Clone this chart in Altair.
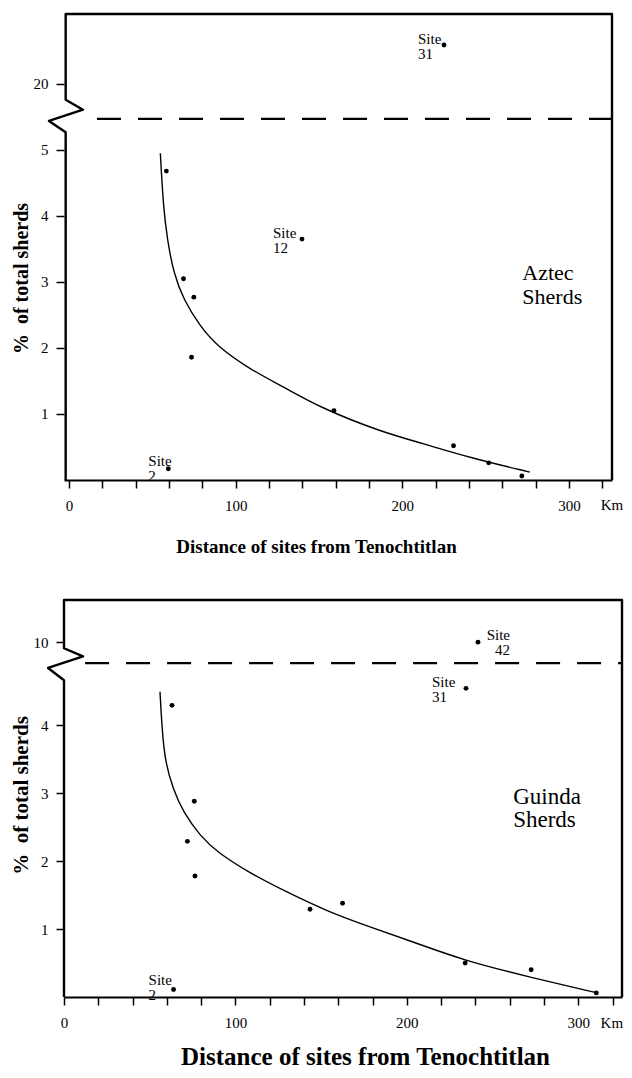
import altair as alt
import pandas as pd

SERIF = "Liberation Serif"

# ---------------- Aztec sherds (upper figure) ----------------
aztec_km = [58.4, 68.7, 74.9, 73.5, 59.6, 139.8, 159.0, 230.7, 251.8, 271.7, 225.0]
aztec_pct = [4.68, 3.05, 2.77, 1.86, 0.17, 3.65, 1.05, 0.52, 0.26, 0.06, 25.9]
aztec_curve_km = [54.8, 56.6, 59.0, 62.7, 68.7, 78.9, 89.2, 109.0, 128.9, 151.2, 187.3, 211.4, 241.6, 276.5]
aztec_curve_pct = [4.95, 4.14, 3.64, 3.14, 2.73, 2.32, 2.02, 1.67, 1.41, 1.09, 0.73, 0.56, 0.33, 0.12]
aztec_site_names = ["31", "12", "2"]
aztec_site_km = [225.0, 139.8, 59.6]
aztec_site_pct = [25.9, 3.65, 0.17]

# ---------------- Guinda sherds (lower figure) ----------------
guinda_km = [63.0, 76.0, 72.0, 76.4, 63.9, 143.5, 162.5, 234.0, 272.5, 310.5, 234.5, 241.5]
guinda_pct = [4.29, 2.88, 2.29, 1.78, 0.11, 1.29, 1.38, 0.50, 0.40, 0.06, 4.54, 10.0]
guinda_curve_km = [56.0, 57.2, 59.0, 63.6, 69.5, 79.4, 89.3, 108.6, 127.8, 155.3, 178.6, 203.7, 232.9, 272.0, 311.2]
guinda_curve_pct = [4.49, 3.94, 3.46, 3.06, 2.72, 2.37, 2.13, 1.82, 1.57, 1.24, 1.03, 0.81, 0.54, 0.29, 0.06]
guinda_site_names = ["42", "31", "2"]
guinda_site_km = [241.5, 234.5, 63.9]
guinda_site_pct = [10.0, 4.54, 0.11]

x_ticks = list(range(0, 321, 20))
X_TITLE = "Distance of sites from Tenochtitlan"
Y_TITLE = "%\u2002of total sherds"


def panel(km, pct, ckm, cpct, snames, skm, spct, site_offsets, break_expr,
          xdom, ytop, width, height, yvals, ylab_expr, frame_km, frame_y,
          dash_span, dash_y, name_text, name_pos, name_size, name_lh, km_pos, km_dy,
          x_label_pad, x_title_size, x_title_pad, x_title_x,
          y_title_size, y_title_pad, y_title_y):
    xe = alt.X("km:Q",
               scale=alt.Scale(domain=xdom, nice=False, zero=False),
               axis=alt.Axis(values=x_ticks, labelExpr="datum.value % 100 === 0 ? datum.label : ''",
                             labelOverlap=False, labelFlush=False, labelPadding=x_label_pad,
                             tickSize=8, tickWidth=1.5, domainWidth=2.2, domainColor="black",
                             tickColor="black", labelColor="black", labelFont=SERIF, labelFontSize=15,
                             title=X_TITLE, titleFont=SERIF, titleFontSize=x_title_size,
                             titleFontWeight="bold", titleColor="black", titlePadding=x_title_pad,
                             titleX=x_title_x, grid=False))
    ye = alt.Y("yv:Q",
               scale=alt.Scale(domain=[0, ytop], nice=False, zero=True),
               axis=alt.Axis(values=yvals, labelExpr=ylab_expr, labelOverlap=False, labelFlush=False,
                             domain=False, tickSize=8, tickWidth=1.5, tickColor="black",
                             labelColor="black", labelFont=SERIF, labelFontSize=15, labelPadding=8,
                             title=Y_TITLE, titleFont=SERIF, titleFontSize=y_title_size,
                             titleFontWeight="bold", titleColor="black", titlePadding=y_title_pad,
                             titleY=y_title_y, grid=False))

    pts = pd.DataFrame({"km": km, "pct": pct})
    crv = pd.DataFrame({"km": ckm, "yv": cpct})
    frame = pd.DataFrame({"km": frame_km, "yv": frame_y, "o": list(range(len(frame_km)))})
    dash = pd.DataFrame({"km": [dash_span[0]], "km2": [dash_span[1]], "yv": [dash_y]})
    name = pd.DataFrame({"km": [name_pos[0]], "yv": [name_pos[1]], "t": [name_text]})
    kmlab = pd.DataFrame({"km": [km_pos], "yv": [0.0], "t": ["Km"]})

    layers = []
    layers.append(alt.Chart(frame).mark_line(color="black", strokeWidth=2.4, strokeJoin="round")
                  .encode(x=xe, y=ye, order="o:Q"))
    layers.append(alt.Chart(dash).mark_rule(color="black", strokeWidth=2.2, strokeDash=[24, 17])
                  .encode(x=xe, x2="km2:Q", y=ye))
    layers.append(alt.Chart(crv).mark_line(color="black", strokeWidth=1.4, interpolate="basis")
                  .encode(x=xe, y=ye))
    layers.append(alt.Chart(pts).transform_calculate(yv=break_expr)
                  .mark_circle(color="black", opacity=1, size=24)
                  .encode(x=xe, y=ye))
    for n, k, p, (dx, dy, al) in zip(snames, skm, spct, site_offsets):
        sdf = pd.DataFrame({"km": [k], "pct": [p], "t": ["Site\n" + n]})
        layers.append(alt.Chart(sdf).transform_calculate(yv=break_expr)
                      .mark_text(font=SERIF, fontSize=15, lineHeight=15, lineBreak="\n",
                                 align=al, baseline="middle", dx=dx, dy=dy, color="black")
                      .encode(x=xe, y=ye, text="t:N"))
    layers.append(alt.Chart(name).mark_text(font=SERIF, fontSize=name_size, lineHeight=name_lh,
                                            lineBreak="\n", align="left", baseline="middle",
                                            color="black")
                  .encode(x=xe, y=ye, text="t:N"))
    layers.append(alt.Chart(kmlab).mark_text(font=SERIF, fontSize=15, align="left", baseline="middle",
                                             dy=km_dy, color="black")
                  .encode(x=xe, y=ye, text="t:N"))
    return alt.layer(*layers).properties(width=width, height=height)


top = panel(aztec_km, aztec_pct, aztec_curve_km, aztec_curve_pct,
            aztec_site_names, aztec_site_km, aztec_site_pct,
            [(-26, -6.5, "left"), (-29, -6, "left"), (-20, -8, "left")],
            "datum.pct > 5.5 ? 6 + (datum.pct - 20) * 0.1 : datum.pct",
            [-3, 325.8], 7.06, 548, 466, [1, 2, 3, 4, 5, 6],
            "datum.value > 5.5 ? '20' : datum.label",
            [325.8, 325.8, -2, -2, 8.4, -12, -2, -2],
            [0, 7.06, 7.06, 5.76, 5.61, 5.44, 5.27, 0],
            (16.8, 325.8), 5.47, "Aztec\nSherds", (272, 3.14), 22, 24, 319, 25,
            10.5, 19, 24, 252, 20, 2, 264)

bottom = panel(guinda_km, guinda_pct, guinda_curve_km, guinda_curve_pct,
               guinda_site_names, guinda_site_km, guinda_site_pct,
               [(32, -7, "right"), (-34, -6.5, "left"), (-25, -10, "left")],
               "datum.pct > 5 ? 5.22 + (datum.pct - 10) * 0.1 : datum.pct",
               [0, 325.5], 5.84, 558, 397, [1, 2, 3, 4, 5.22],
               "datum.value > 5 ? '10' : datum.label",
               [325.5, 325.5, 0, 0, 11.1, -9.3, 0, 0],
               [0, 5.84, 5.84, 5.13, 5.01, 4.84, 4.66, 0],
               (12.3, 325.5), 4.91, "Guinda\nSherds", (262, 2.94), 23, 23, 313, 26,
               10.5, 25, 14, 301, 21, 2, 195)

chart = (alt.vconcat(top, bottom, spacing=41)
         .properties(padding={"left": 2, "top": 4, "right": 0, "bottom": 0}, background="white")
         .configure_view(stroke=None))

chart.save("out.html", embed_options={"renderer": "svg", "actions": False})
